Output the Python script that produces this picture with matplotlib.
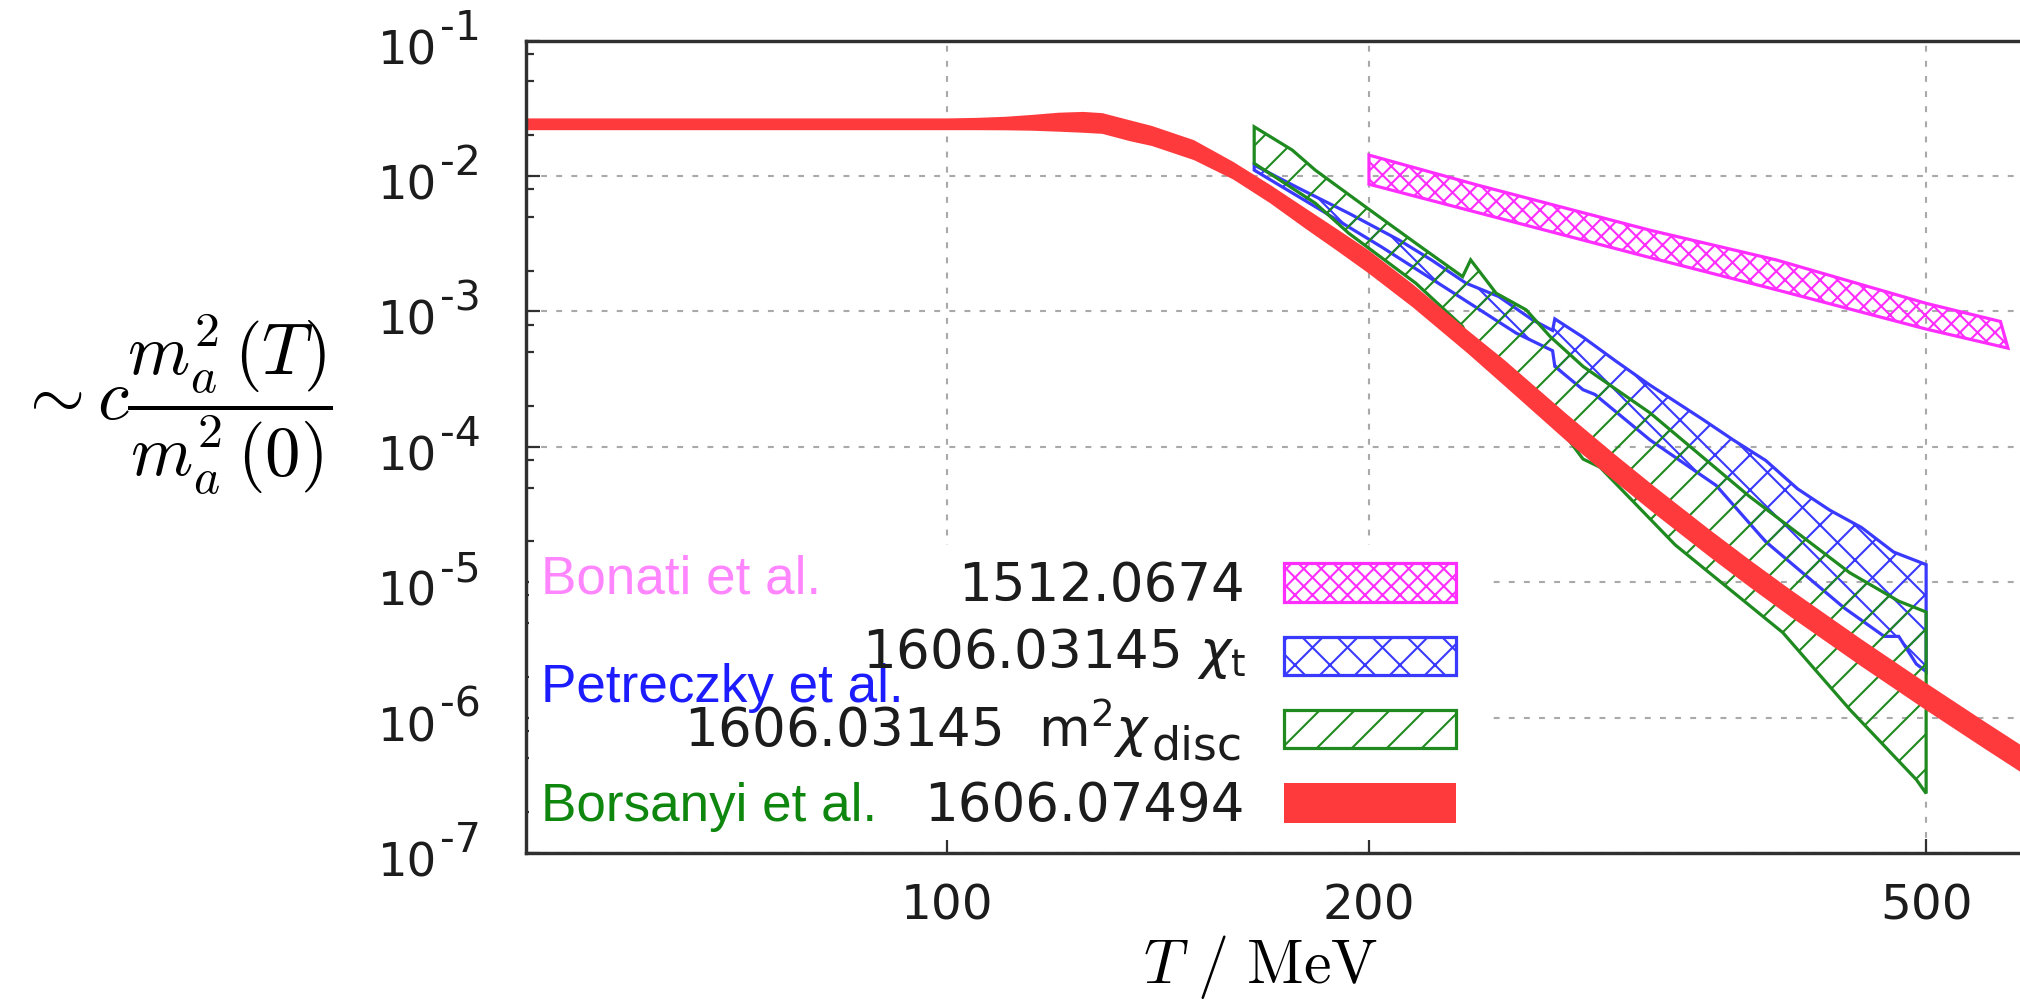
import numpy as np
import matplotlib
matplotlib.use("Agg")
import matplotlib.pyplot as plt
from matplotlib import transforms as mtrans
from matplotlib.ticker import FixedLocator, FixedFormatter, NullLocator, NullFormatter
from matplotlib.patches import Rectangle

# ------------------------------------------------------------------
# Band edges, given as log10 of  c * m_a^2(T) / m_a^2(0)  versus T [MeV]
# ------------------------------------------------------------------
# Borsanyi et al. 1606.07494
bor_T = [50, 100, 105, 110, 115, 120, 125, 129, 135, 140, 150, 160, 170, 180,
         190, 200, 215, 235, 250, 277, 300, 320, 350, 374, 400, 450, 500, 550, 600]
bor_hi = [-1.574, -1.574, -1.570, -1.562, -1.548, -1.532, -1.526, -1.535, -1.588,
          -1.630, -1.735, -1.895, -2.065, -2.235, -2.395, -2.550, -2.800, -3.135,
          -3.360, -3.760, -4.060, -4.295, -4.610, -4.835, -5.055, -5.425, -5.745,
          -6.027, -6.280]
bor_lo = [-1.661, -1.661, -1.661, -1.662, -1.665, -1.672, -1.680, -1.688, -1.742,
          -1.778, -1.882, -2.025, -2.200, -2.385, -2.555, -2.720, -2.970, -3.305,
          -3.550, -3.960, -4.260, -4.495, -4.810, -5.035, -5.255, -5.625, -5.945,
          -6.227, -6.480]

# Petreczky et al. 1606.03145, m^2 chi_disc
disc_hi_T = [165.6, 176.3, 183.1, 198.8, 216, 233.3, 236.4, 246.5, 259, 269.4,
             284.4, 317.6, 373.6, 441, 478, 500]
disc_hi = [-1.636, -1.808, -1.956, -2.226, -2.496, -2.743, -2.619, -2.865, -2.988,
           -3.185, -3.406, -3.750, -4.363, -4.930, -5.140, -5.220]
disc_lo_T = [165.6, 183.1, 193.5, 216, 233.3, 235.2, 250, 270, 284.4, 292.4, 331,
             395, 441, 492, 500]
disc_lo = [-1.906, -2.200, -2.423, -2.791, -3.111, -3.197, -3.450, -3.780, -4.090,
           -4.150, -4.725, -5.372, -5.940, -6.458, -6.560]

# Petreczky et al. 1606.03145, chi_t
chit_hi_T = [165.6, 178.3, 193.5, 210.1, 221.6, 234.6, 247.6, 261.7, 270.5, 271.5,
             284.4, 300.2, 317.6, 345.9, 364.2, 384, 404.7, 426.6, 449.6, 474, 500]
chit_hi = [-1.919, -2.091, -2.275, -2.472, -2.619, -2.791, -2.890, -3.062, -3.140,
           -3.055, -3.190, -3.367, -3.545, -3.794, -3.950, -4.100, -4.310, -4.467,
           -4.596, -4.777, -4.870]
chit_lo_T = [165.6, 183.1, 204, 228, 254.8, 270.5, 271.5, 284.4, 290, 317.6, 354,
             384, 437, 466.7, 478, 492, 500]
chit_lo = [-1.956, -2.226, -2.521, -2.840, -3.160, -3.290, -3.406, -3.578, -3.613,
           -3.950, -4.285, -4.700, -5.190, -5.400, -5.400, -5.604, -5.660]

# Bonati et al. 1512.0674
bon_hi_T = [200, 239, 317, 391, 500, 565]
bon_hi = [-1.845, -2.066, -2.398, -2.620, -2.940, -3.074]
bon_lo_T = [200, 317, 391, 500, 572]
bon_lo = [-2.060, -2.600, -2.840, -3.130, -3.271]

x_ticks = [100, 200, 500]
x_tick_labels = ["100", "200", "500"]
y_exponents = [-7, -6, -5, -4, -3, -2, -1]

legend_names = ["Bonati et al.", "Petreczky et al.", "", "Borsanyi et al."]
legend_refs = ["1512.0674", r"1606.03145 $\chi_\mathrm{t}$",
               r"1606.03145  m$^{2}\chi$", "1606.07494"]
legend_ref_subscript = "disc"

# ------------------------------------------------------------------
# Styling (sizes are given in output pixels and converted to points)
# ------------------------------------------------------------------
W, H, DPI = 2020, 1001, 105


def pt(px):
    return px * 72.0 / DPI


RED = "#ff3a3d"
MAGENTA = "#ff2eff"
BLUE = "#3a3aff"
GREEN = "#1f8a1f"
NAME_COLORS = ["#ff86ff", "#1c1cff", None, "#0f870f"]
TEXT = "#1c1c1c"
AXIS = "#303030"
EDGE_LW = pt(3.2)

plt.rcParams["font.family"] = ["DejaVu Sans"]
plt.rcParams["mathtext.fontset"] = "dejavusans"
plt.rcParams["hatch.linewidth"] = pt(2.1)

fig = plt.figure(figsize=(W / DPI, H / DPI), dpi=DPI)


def fx(x):
    return x / W


def fy(y):
    return 1 - y / H


ax_l, ax_r, ax_t, ax_b = 526, 2037, 40.7, 853
ax = fig.add_axes([fx(ax_l), fy(ax_b), (ax_r - ax_l) / W, (ax_b - ax_t) / H])
ax.set_xscale("log")
ax.set_yscale("log")
ax.set_xlim(50, 600)
ax.set_ylim(1e-7, 1e-1)

ax.xaxis.set_major_locator(FixedLocator(x_ticks))
ax.xaxis.set_major_formatter(FixedFormatter(x_tick_labels))
ax.xaxis.set_minor_locator(NullLocator())
ax.yaxis.set_major_locator(FixedLocator([10.0 ** e for e in y_exponents]))
ax.yaxis.set_major_formatter(NullFormatter())
ax.yaxis.set_minor_locator(FixedLocator(
    [m * 10.0 ** e for e in range(-7, -1) for m in (2, 5, 8)]))
ax.yaxis.set_minor_formatter(NullFormatter())

ax.tick_params(which="both", direction="in", top=False, right=False,
               color=AXIS, width=pt(2.2))
ax.tick_params(which="major", length=pt(14))
ax.tick_params(which="minor", length=pt(8))
ax.tick_params(axis="x", which="major", labelsize=pt(48.5), pad=pt(29),
               labelcolor=TEXT)

for side in ("left", "bottom", "top"):
    ax.spines[side].set_color(AXIS)
    ax.spines[side].set_linewidth(pt(3.4))

ax.set_axisbelow(True)
ax.grid(True, which="major", color="#a9a9a9", linewidth=pt(2.1),
        linestyle=(0, (2.8, 4.4)))

# decade labels on the y axis: "10" with a raised exponent
y_base = mtrans.blended_transform_factory(fig.transFigure, ax.transData)
y_main = mtrans.offset_copy(y_base, fig=fig, y=-pt(23.5), units="points")
y_sup = mtrans.offset_copy(y_base, fig=fig, y=pt(1.0), units="points")
for e in y_exponents:
    ax.text(fx(437), 10.0 ** e, "10", transform=y_main, ha="right",
            va="baseline", fontsize=pt(46.5), color=TEXT, clip_on=False)
    ax.text(fx(440), 10.0 ** e, "-%d" % (-e), transform=y_sup, ha="left",
            va="baseline", fontsize=pt(41), color=TEXT, clip_on=False)

# white key area on top of the grid
ax.add_patch(Rectangle((fx(529), fy(840)), fx(1490) - fx(529), fy(545) - fy(840),
                       transform=fig.transFigure, facecolor="white",
                       edgecolor="none", zorder=1.5))


def band(T_hi, lg_hi, T_lo, lg_lo):
    xs = np.r_[np.asarray(T_hi, float), np.asarray(T_lo, float)[::-1]]
    ys = 10.0 ** np.r_[np.asarray(lg_hi, float), np.asarray(lg_lo, float)[::-1]]
    return xs, ys


xs, ys = band(bon_hi_T, bon_hi, bon_lo_T, bon_lo)
ax.fill(xs, ys, facecolor="none", edgecolor=MAGENTA, hatch="xx", lw=EDGE_LW, zorder=2)

xs, ys = band(chit_hi_T, chit_hi, chit_lo_T, chit_lo)
ax.fill(xs, ys, facecolor="none", edgecolor=BLUE, hatch="x", lw=EDGE_LW, zorder=2.1)

xs, ys = band(disc_hi_T, disc_hi, disc_lo_T, disc_lo)
ax.fill(xs, ys, facecolor="none", edgecolor=GREEN, hatch="/", lw=EDGE_LW, zorder=2.2)

xs, ys = band(bor_T, bor_hi, bor_T, bor_lo)
ax.fill(xs, ys, facecolor=RED, edgecolor="none", zorder=2.3)

# ------------------------------------------------------------------
# Key
# ------------------------------------------------------------------
name_base = [593, 702, None, 821]
id_base = [601, 668, 747, 821]
id_right = [1245, 1246, 1150, 1245]
box_top = [563, 637, 710, 783]
box_bot = [602, 675, 748, 823]
box_style = [
    dict(facecolor="none", edgecolor=MAGENTA, hatch="xx", lw=EDGE_LW),
    dict(facecolor="none", edgecolor=BLUE, hatch="x", lw=EDGE_LW),
    dict(facecolor="none", edgecolor=GREEN, hatch="/", lw=EDGE_LW),
    dict(facecolor=RED, edgecolor="none"),
]

for i in range(4):
    if legend_names[i]:
        fig.text(fx(541), fy(name_base[i]), legend_names[i], color=NAME_COLORS[i],
                 fontsize=pt(53), family=["Liberation Sans"], ha="left",
                 va="baseline", zorder=5)
    fig.text(fx(id_right[i]), fy(id_base[i]), legend_refs[i], color=TEXT,
             fontsize=pt(53), ha="right", va="baseline", zorder=5)
    fig.add_artist(Rectangle((fx(1284), fy(box_bot[i])), fx(1456) - fx(1284),
                             fy(box_top[i]) - fy(box_bot[i]),
                             transform=fig.transFigure, zorder=5, **box_style[i]))

# large subscript of chi_disc
fig.text(fx(1152), fy(760), legend_ref_subscript, color=TEXT, fontsize=pt(46),
         ha="left", va="baseline", zorder=5)

# ------------------------------------------------------------------
# Axis titles
# ------------------------------------------------------------------
fig.text(fx(1260), fy(983), r"$T\ /\ \mathrm{MeV}$", fontsize=pt(62),
         math_fontfamily="cm", ha="center", va="baseline", color="black")
fig.text(fx(175), fy(405),
         r"$\sim c\dfrac{m_a^2\,(T)}{m_a^2\,(0)}$", fontsize=pt(71),
         math_fontfamily="cm", ha="center", va="center", color="black")

fig.savefig("out.png", dpi=DPI)
